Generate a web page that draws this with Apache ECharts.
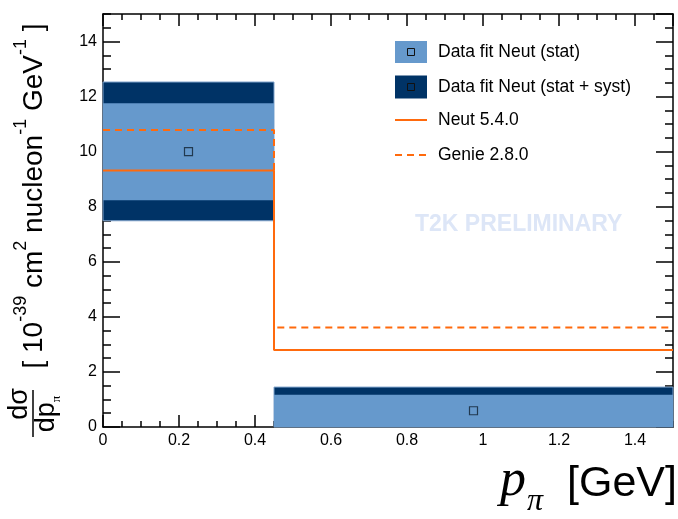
<!DOCTYPE html>
<html><head><meta charset="utf-8">
<script src="https://cdn.jsdelivr.net/npm/echarts@6/dist/echarts.min.js"></script>
<style>html,body{margin:0;padding:0;background:#fff}#c{width:678px;height:519px}</style>
</head><body><div id="c"></div>
<script>
// ---- data ----
const binLow = [0, 0.45];
const binHigh = [0.45, 1.5];
const pointX = [0.225, 0.975];
const dataValue = [10.0, 0.59];
const statLow = [8.24, 0.0];
const statHigh = [11.76, 1.17];
const systLow = [7.49, 0.0];
const systHigh = [12.53, 1.45];
const neutValues = [9.32, 2.80];
const genieValues = [10.79, 3.61];
const legendNames = ['Data fit Neut (stat)', 'Data fit Neut (stat + syst)', 'Neut 5.4.0', 'Genie 2.8.0'];

const FONT = "'Liberation Sans', Arial, Helvetica, sans-serif";
const LIGHT = '#6699cc', DARK = '#003366', ORANGE = '#ff6a0d';

function bandData(lo, hi) { return binLow.map((x, i) => [x, binHigh[i], lo[i], hi[i]]); }
function stepData(vals) {
  const out = [];
  vals.forEach((v, i) => { out.push([binLow[i], v]); out.push([binHigh[i], v]); });
  return out;
}
function bandSeries(lo, hi, color, stroke) {
  return {
    type: 'custom', xAxisIndex: 0, yAxisIndex: 0,
    data: bandData(lo, hi), encode: { x: [0, 1], y: [2, 3] },
    renderItem: (params, api) => {
      const p0 = api.coord([api.value(0), api.value(3)]);
      const p1 = api.coord([api.value(1), api.value(2)]);
      return { type: 'rect', shape: { x: p0[0], y: p0[1], width: p1[0] - p0[0], height: p1[1] - p0[1] },
        style: { fill: color, stroke: stroke || null, lineWidth: stroke ? 1 : 0 } };
    }
  };
}
function axisCommon(min, max, interval, pos, len, showLine, showLabel, margin) {
  return {
    type: 'value', min, max, interval, position: pos,
    axisLine: { show: showLine, onZero: false, lineStyle: { color: '#000', width: 1.5 } },
    axisTick: { show: true, inside: true, length: len, lineStyle: { color: '#000', width: 1.5 } },
    axisLabel: { show: showLabel, showMaxLabel: false, color: '#000', fontSize: 16, fontFamily: FONT, margin: margin || 6 },
    splitLine: { show: false }
  };
}

const chart = echarts.init(document.getElementById('c'), null, { renderer: 'canvas' });
const legendY = [52, 87, 120, 155];
const graphics = [
  // watermark
  { type: 'text', x: 415, y: 225, z: 0, style: { text: 'T2K PRELIMINARY', fill: '#dde6f7', font: 'bold 23px ' + FONT, align: 'left', verticalAlign: 'middle' } },
  // legend
  { type: 'rect', shape: { x: 395, y: legendY[0] - 11, width: 32, height: 22 }, style: { fill: LIGHT } },
  { type: 'rect', shape: { x: 407.5, y: legendY[0] - 3.5, width: 7, height: 7 }, style: { fill: 'none', stroke: '#111', lineWidth: 1 } },
  { type: 'rect', shape: { x: 395, y: legendY[1] - 11.5, width: 32, height: 23 }, style: { fill: DARK } },
  { type: 'rect', shape: { x: 407.5, y: legendY[1] - 3.5, width: 7, height: 7 }, style: { fill: 'none', stroke: '#111', lineWidth: 1 } },
  { type: 'line', shape: { x1: 395, y1: legendY[2], x2: 427, y2: legendY[2] }, style: { stroke: ORANGE, lineWidth: 2 } },
  { type: 'line', shape: { x1: 395, y1: legendY[3], x2: 427, y2: legendY[3] }, style: { stroke: ORANGE, lineWidth: 2, lineDash: [7, 5] } },
  // y axis title: fraction
  { type: 'text', x: 20, y: 404, rotation: Math.PI / 2, style: { text: 'dσ', font: '27px ' + FONT, fill: '#000', align: 'center', verticalAlign: 'middle' } },
  { type: 'line', shape: { x1: 33, y1: 390, x2: 33, y2: 437 }, style: { stroke: '#000', lineWidth: 1.5 } },
  { type: 'text', x: 48, y: 414, rotation: Math.PI / 2, style: {
      text: '{n|dp}{s|π}', align: 'center', verticalAlign: 'middle',
      rich: { n: { fontSize: 27, fontFamily: FONT, fill: '#000', lineHeight: 30, verticalAlign: 'top' },
              s: { fontSize: 13, fontFamily: 'Liberation Serif, serif', fill: '#000', lineHeight: 13, verticalAlign: 'bottom' } } } },
  // y axis title: units
  { type: 'text', x: 30, y: 196, rotation: Math.PI / 2, style: {
      text: '{n|[ 10}{s|-39}{n| cm}{s|2}{n| nucleon}{s|-1}{n| GeV}{s|-1}{n| ]}', align: 'center', verticalAlign: 'middle',
      rich: { n: { fontSize: 28, fontFamily: FONT, fill: '#000', lineHeight: 36, verticalAlign: 'bottom' },
              s: { fontSize: 18, fontFamily: FONT, fill: '#000', lineHeight: 18, verticalAlign: 'top' } } } },
  // x axis title
  { type: 'text', x: 500, y: 481, style: { text: 'p', font: 'italic 52px "Liberation Serif", "Times New Roman", serif', fill: '#000', align: 'left', verticalAlign: 'middle' } },
  { type: 'text', x: 527, y: 502, style: { text: 'π', font: 'italic 32px "Liberation Serif", "Times New Roman", serif', fill: '#000', align: 'left', verticalAlign: 'middle' } },
  { type: 'text', x: 677, y: 484, style: { text: '[GeV]', font: '43px ' + FONT, fill: '#000', align: 'right', verticalAlign: 'middle' } }
];
legendNames.forEach((name, i) => {
  graphics.push({ type: 'text', x: 438, y: legendY[i], style: { text: name, font: '17.5px ' + FONT, fill: '#000', align: 'left', verticalAlign: 'middle' } });
});

chart.setOption({
  animation: false,
  backgroundColor: '#fff',
  grid: { left: 103, top: 14, width: 570, height: 413, containLabel: false },
  xAxis: [
    axisCommon(0, 1.5, 0.2, 'bottom', 12, true, true, 6),
    axisCommon(0, 1.5, 0.05, 'bottom', 6, false, false),
    axisCommon(0, 1.5, 0.2, 'top', 12, true, false),
    axisCommon(0, 1.5, 0.05, 'top', 6, false, false)
  ],
  yAxis: [
    axisCommon(0, 15, 2, 'left', 17, true, true, 6),
    axisCommon(0, 15, 0.5, 'left', 8, false, false),
    axisCommon(0, 15, 2, 'right', 17, true, false),
    axisCommon(0, 15, 0.5, 'right', 8, false, false)
  ],
  series: [
    bandSeries(systLow, systHigh, DARK, '#7fa3cc'),
    bandSeries(statLow, statHigh, LIGHT),
    { type: 'line', xAxisIndex: 0, yAxisIndex: 0, data: stepData(genieValues), symbol: 'none',
      lineStyle: { color: ORANGE, width: 2, type: [7, 5] } },
    { type: 'line', xAxisIndex: 0, yAxisIndex: 0, data: stepData(neutValues), symbol: 'none',
      lineStyle: { color: ORANGE, width: 2 } },
    { type: 'scatter', xAxisIndex: 0, yAxisIndex: 0, data: pointX.map((x, i) => [x, dataValue[i]]),
      symbol: 'rect', symbolSize: 8, itemStyle: { color: 'rgba(0,0,0,0)', borderColor: '#102030', borderWidth: 1.2 } }
  ],
  graphic: graphics
});
</script></body></html>
